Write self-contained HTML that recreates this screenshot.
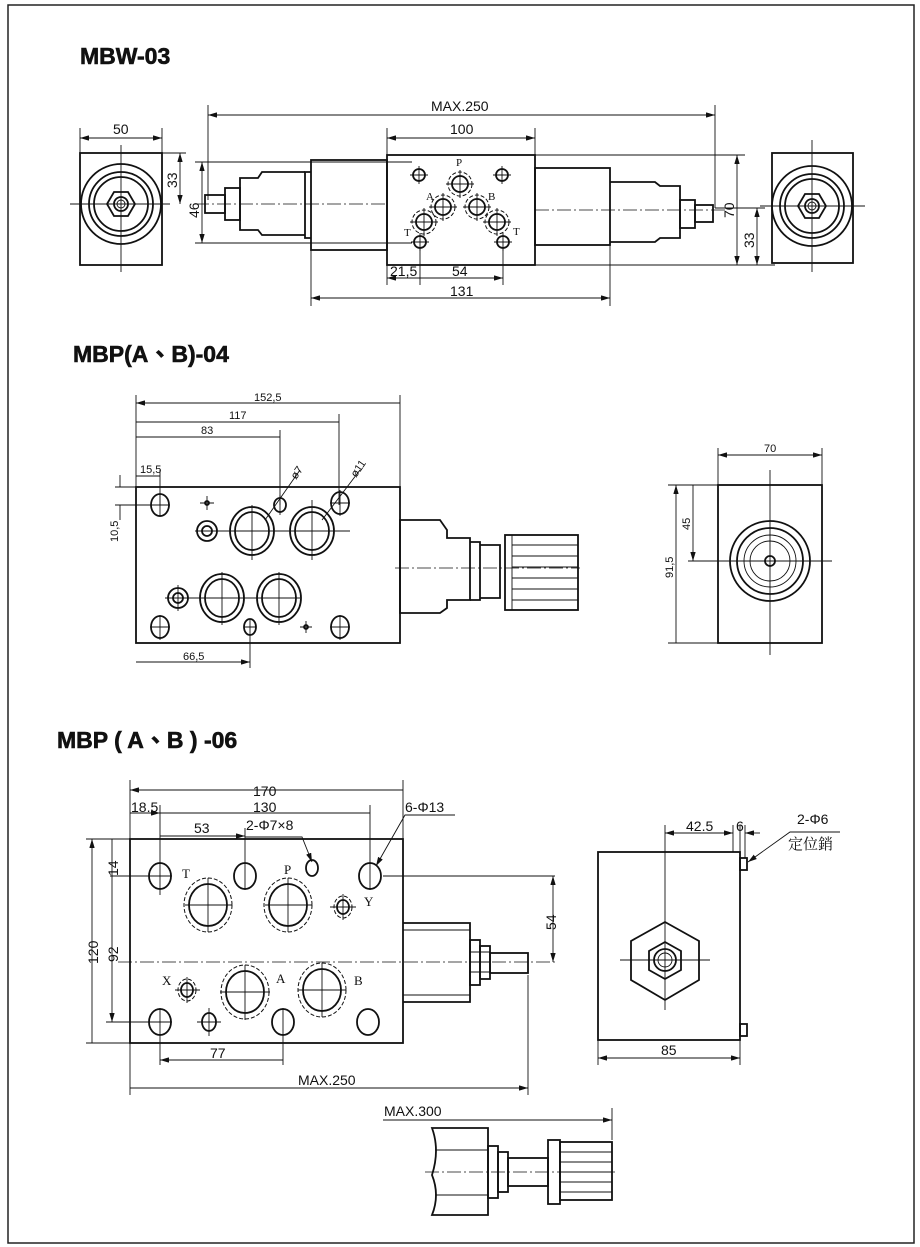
<!DOCTYPE html>
<html><head><meta charset="utf-8"><style>
body{margin:0;background:#fff}
svg{display:block}
text{font-family:"Liberation Sans","Noto Sans CJK TC",sans-serif;fill:#111}
.t{font-weight:bold;font-size:23px;stroke:#111;stroke-width:0.6}
.d{font-size:14px}
.s{font-size:11px}
.L{fill:none;stroke:#111;stroke-width:1.8}
.l{fill:none;stroke:#111;stroke-width:0.9}
.c{fill:none;stroke:#111;stroke-width:0.8;stroke-dasharray:14 3 2 3}
.h{fill:none;stroke:#111;stroke-width:1;stroke-dasharray:4 2}
</style></head><body>
<svg width="920" height="1247" viewBox="0 0 920 1247" xmlns="http://www.w3.org/2000/svg">
<defs>
<marker id="a" viewBox="0 0 10 6" refX="10" refY="3" markerWidth="10" markerHeight="6" orient="auto-start-reverse"><path d="M0,0 L10,3 L0,6z" fill="#111"/></marker>
<g id="hx"><circle r="6" class="L"/><path d="M-9,0H9M0,-9V9" class="l"/></g>
<g id="hd"><circle r="8" class="L"/><circle r="12" class="h"/><path d="M-14,0H14M0,-14V14" class="l"/></g>
</defs>
<rect x="8" y="5" width="906" height="1238" fill="none" stroke="#222" stroke-width="1.5"/>

<!-- MBW-03 -->
<text x="80" y="64" class="t">MBW-03</text>
<rect x="80" y="153" width="82" height="112" class="L"/>
<circle cx="121" cy="204" r="40" class="L"/><circle cx="121" cy="204" r="32" class="L"/><circle cx="121" cy="204" r="27" class="L"/>
<polygon points="107,204 114,192 128,192 135,204 128,216 114,216" class="L"/><circle cx="121" cy="204" r="7" class="L"/><circle cx="121" cy="204" r="4" class="l"/>
<path d="M121,145V272M70,204H170" class="l"/>
<path d="M80,138H162" class="l" marker-start="url(#a)" marker-end="url(#a)"/><path d="M80,128V153M162,128V153" class="l"/>
<text x="113" y="134" class="d">50</text>
<path d="M180,153V204" class="l" marker-start="url(#a)" marker-end="url(#a)"/><path d="M162,153H186" class="l"/>
<text x="0" y="0" class="d" transform="translate(177,188) rotate(-90)">33</text>

<rect x="772" y="153" width="81" height="110" class="L"/>
<circle cx="812" cy="206" r="40" class="L"/><circle cx="812" cy="206" r="32" class="L"/><circle cx="812" cy="206" r="27" class="L"/>
<polygon points="798,206 805,194 819,194 826,206 819,218 805,218" class="L"/><circle cx="812" cy="206" r="7" class="L"/><circle cx="812" cy="206" r="4" class="l"/>
<path d="M812,140V272M760,206H865" class="l"/>

<rect x="387" y="155" width="148" height="110" class="L"/>
<rect x="311" y="160" width="76" height="90" class="L"/>
<path d="M311,172H305V238H311" class="L"/>
<path d="M305,172H262L258,178H240V230H258L262,235H305" class="L"/>
<rect x="225" y="188" width="15" height="32" class="L"/>
<rect x="205" y="195" width="20" height="18" class="L"/>
<rect x="535" y="168" width="75" height="77" class="L"/>
<path d="M610,182H655L660,186H680V238H660L655,242H610" class="L"/>
<rect x="680" y="200" width="15" height="28" class="L"/>
<rect x="695" y="205" width="18" height="17" class="L"/>
<path d="M195,204H387M535,210H725" class="c"/>
<use href="#hx" x="419" y="175"/><use href="#hx" x="502" y="175"/><use href="#hx" x="420" y="242"/><use href="#hx" x="503" y="242"/>
<use href="#hd" x="460" y="184"/><use href="#hd" x="443" y="207"/><use href="#hd" x="477" y="207"/><use href="#hd" x="424" y="222"/><use href="#hd" x="497" y="222"/>
<text x="456" y="166" style="font-family:'Liberation Serif',serif;font-size:11px">P</text>
<text x="426" y="200" style="font-family:'Liberation Serif',serif;font-size:11px">A</text>
<text x="488" y="200" style="font-family:'Liberation Serif',serif;font-size:11px">B</text>
<text x="404" y="236" style="font-family:'Liberation Serif',serif;font-size:11px">T</text>
<text x="513" y="235" style="font-family:'Liberation Serif',serif;font-size:11px">T</text>
<path d="M208,115H715" class="l" marker-start="url(#a)" marker-end="url(#a)"/><path d="M208,105V200M715,105V208" class="l"/>
<text x="431" y="111" class="d">MAX.250</text>
<path d="M387,138H535" class="l" marker-start="url(#a)" marker-end="url(#a)"/><path d="M387,128V155M535,128V155" class="l"/>
<text x="450" y="134" class="d">100</text>
<path d="M737,155V265" class="l" marker-start="url(#a)" marker-end="url(#a)"/><path d="M535,155H745M535,265H775" class="l"/>
<text class="d" transform="translate(734,218) rotate(-90)">70</text>
<path d="M757,208V265" class="l" marker-start="url(#a)" marker-end="url(#a)"/><path d="M715,208H765" class="l"/>
<text class="d" transform="translate(754,248) rotate(-90)">33</text>
<path d="M202,162V243" class="l" marker-start="url(#a)" marker-end="url(#a)"/><path d="M195,162H412M195,243H412" class="l"/>
<text class="d" transform="translate(199,218) rotate(-90)">46</text>
<path d="M387,278H420M420,278H503" class="l" marker-start="url(#a)" marker-end="url(#a)"/><path d="M387,265V285M420,248V285M503,248V285" class="l"/>
<text x="390" y="276" class="d">21,5</text><text x="452" y="276" class="d">54</text>
<path d="M311,298H610" class="l" marker-start="url(#a)" marker-end="url(#a)"/><path d="M311,250V306M610,245V306" class="l"/>
<text x="450" y="296" class="d">131</text>

<!-- MBP(A,B)-04 -->
<text x="73" y="362" class="t">MBP(A、B)-04</text>
<rect x="136" y="487" width="264" height="156" class="L"/>
<path d="M136,403H400M136,422H339M136,437H280M136,476H160M136,662H250" class="l" marker-start="url(#a)" marker-end="url(#a)"/>
<path d="M136,395V487M400,395V487M339,414V505M280,430V505M160,470V505M250,620V668" class="l"/>
<text x="254" y="401" class="s">152,5</text><text x="229" y="419" class="s">117</text><text x="201" y="434" class="s">83</text><text x="140" y="473" class="s">15,5</text><text x="183" y="660" class="s">66,5</text>
<path d="M115,487H136M115,505H160" class="l"/><path d="M120,475V487M120,505V520" class="l"/>
<text class="s" transform="translate(118,542) rotate(-90)">10,5</text>
<g class="L"><ellipse cx="160" cy="505" rx="9" ry="11"/><ellipse cx="280" cy="505" rx="6" ry="7"/><ellipse cx="340" cy="503" rx="9" ry="11"/>
<circle cx="207" cy="531" r="10"/><circle cx="207" cy="531" r="5"/>
<ellipse cx="252" cy="531" rx="22" ry="24"/><ellipse cx="252" cy="531" rx="17" ry="19"/>
<ellipse cx="312" cy="531" rx="22" ry="24"/><ellipse cx="312" cy="531" rx="17" ry="19"/>
<circle cx="178" cy="598" r="10"/><circle cx="178" cy="598" r="5"/>
<ellipse cx="222" cy="598" rx="22" ry="24"/><ellipse cx="222" cy="598" rx="17" ry="19"/>
<ellipse cx="279" cy="598" rx="22" ry="24"/><ellipse cx="279" cy="598" rx="17" ry="19"/>
<ellipse cx="160" cy="627" rx="9" ry="11"/><ellipse cx="250" cy="627" rx="6" ry="8"/><ellipse cx="340" cy="627" rx="9" ry="11"/>
<circle cx="207" cy="503" r="2"/><circle cx="306" cy="627" r="2"/></g>
<path d="M150,505H170M160,493V517M200,503H214M207,496V510M195,531H350M252,505V560M312,500V560M280,495V515M330,503H350M340,490V516M165,598H300M178,585V611M222,572V625M279,572V625M150,627H170M160,615V640M300,627H312M306,621V633M330,627H350M340,615V640M244,627H256" class="l"/>
<path d="M265,520L300,470M322,520L360,470" class="l"/>
<text class="s" transform="translate(296,480) rotate(-55)">ø7</text><text class="s" transform="translate(356,478) rotate(-55)">ø11</text>
<path d="M400,520H440L447,530V538H470V600H447V608L440,613H400Z" class="L"/>
<path d="M470,542H480V600H470M480,545H500V598H480" class="L"/>
<rect x="505" y="535" width="73" height="75" class="L"/><path d="M505,535V610M512,535V610M512,545H578M512,556H578M512,567H578M512,578H578M512,589H578M512,600H578" class="l"/>
<path d="M395,568H580" class="c"/>
<rect x="718" y="485" width="104" height="158" class="L"/>
<circle cx="770" cy="561" r="40" class="L"/><circle cx="770" cy="561" r="33" class="L"/><circle cx="770" cy="561" r="26" class="l"/><circle cx="770" cy="561" r="20" class="l"/><circle cx="770" cy="561" r="5" class="L"/>
<path d="M770,470V655M700,561H832" class="l"/>
<path d="M718,455H822" class="l" marker-start="url(#a)" marker-end="url(#a)"/><path d="M718,448V485M822,448V485" class="l"/>
<text x="764" y="452" class="s">70</text>
<path d="M676,485V643M693,485V561" class="l" marker-start="url(#a)" marker-end="url(#a)"/><path d="M668,485H718M668,643H718M688,561H720" class="l"/>
<text class="s" transform="translate(673,578) rotate(-90)">91,5</text><text class="s" transform="translate(690,530) rotate(-90)">45</text>

<!-- MBP(A,B)-06 -->
<text x="57" y="748" class="t">MBP ( A、B ) -06</text>
<rect x="130" y="839" width="273" height="204" class="L"/>
<path d="M130,790H403M160,813H370M160,836H245" class="l" marker-start="url(#a)" marker-end="url(#a)"/>
<path d="M130,813H160" class="l" marker-end="url(#a)"/>
<path d="M130,780V839M403,780V839M160,805V895M370,805V890M245,828V890" class="l"/>
<text x="253" y="796" class="d">170</text><text x="131" y="812" class="d">18.5</text><text x="253" y="812" class="d">130</text><text x="194" y="833" class="d">53</text>
<text x="246" y="830" class="d">2-Φ7×8</text><path d="M245,837H302L312,862" class="l" marker-end="url(#a)"/>
<text x="405" y="812" class="d">6-Φ13</text><path d="M455,815H405L376,866" class="l" marker-end="url(#a)"/>
<g class="L"><ellipse cx="160" cy="876" rx="11" ry="13"/><ellipse cx="245" cy="876" rx="11" ry="13"/><ellipse cx="312" cy="868" rx="6" ry="8"/><ellipse cx="370" cy="876" rx="11" ry="13"/>
<ellipse cx="208" cy="905" rx="19" ry="21"/><ellipse cx="288" cy="905" rx="19" ry="21"/><ellipse cx="343" cy="907" rx="6" ry="7"/>
<ellipse cx="187" cy="990" rx="6" ry="7"/><ellipse cx="245" cy="992" rx="19" ry="21"/><ellipse cx="322" cy="990" rx="19" ry="21"/>
<ellipse cx="160" cy="1022" rx="11" ry="13"/><ellipse cx="209" cy="1022" rx="7" ry="9"/><ellipse cx="283" cy="1022" rx="11" ry="13"/><ellipse cx="368" cy="1022" rx="11" ry="13"/></g>
<g class="h"><ellipse cx="208" cy="905" rx="24" ry="27"/><ellipse cx="288" cy="905" rx="24" ry="27"/><ellipse cx="343" cy="907" rx="9" ry="11"/><ellipse cx="187" cy="990" rx="9" ry="11"/><ellipse cx="245" cy="992" rx="24" ry="27"/><ellipse cx="322" cy="990" rx="24" ry="27"/></g>
<path d="M110,876H172M148,1022H172M160,1008V1065M283,1008V1065M185,905H232M208,878V932M265,905H312M288,878V932M330,907H356M343,894V920M175,990H200M187,977V1003M220,992H270M245,965V1020M298,990H346M322,963V1017M197,1022H221M209,1008V1036M383,876H555" class="l"/>
<path d="M118,962H555" class="c"/>
<text x="182" y="878" style="font-family:'Liberation Serif',serif;font-size:13px">T</text><text x="284" y="874" style="font-family:'Liberation Serif',serif;font-size:13px">P</text><text x="364" y="906" style="font-family:'Liberation Serif',serif;font-size:13px">Y</text>
<text x="162" y="985" style="font-family:'Liberation Serif',serif;font-size:13px">X</text><text x="276" y="983" style="font-family:'Liberation Serif',serif;font-size:13px">A</text><text x="354" y="985" style="font-family:'Liberation Serif',serif;font-size:13px">B</text>
<path d="M403,923H470V1002H403" class="L"/><path d="M403,930H470M403,995H470" class="l"/>
<rect x="470" y="940" width="10" height="45" class="L"/><rect x="480" y="946" width="10" height="33" class="L"/><path d="M470,952H490M470,962H490M470,972H490" class="l"/>
<rect x="490" y="953" width="38" height="20" class="L"/>
<path d="M92,839V1043M112,876V1022" class="l" marker-start="url(#a)" marker-end="url(#a)"/><path d="M86,839H130M86,1043H130M106,1022H148" class="l"/><path d="M112,839V876" class="l"/>
<text class="d" transform="translate(98,964) rotate(-90)">120</text><text class="d" transform="translate(118,962) rotate(-90)">92</text><text class="d" transform="translate(118,876) rotate(-90)">14</text>
<path d="M553,876V962" class="l" marker-start="url(#a)" marker-end="url(#a)"/><text class="d" transform="translate(556,930) rotate(-90)">54</text>
<path d="M160,1060H283M130,1088H528" class="l" marker-start="url(#a)" marker-end="url(#a)"/><path d="M130,1043V1095M528,975V1095" class="l"/>
<text x="210" y="1058" class="d">77</text><text x="298" y="1085" class="d">MAX.250</text>
<rect x="598" y="852" width="142" height="188" class="L"/>
<polygon points="665,922 699,941 699,980 665,1000 631,980 631,941" class="L"/>
<polygon points="665,942 681,951 681,970 665,979 649,970 649,951" class="L"/><circle cx="665" cy="960" r="11" class="L"/><circle cx="665" cy="960" r="7" class="l"/>
<path d="M665,860V1010M620,960H710M665,825V860" class="l"/>
<rect x="740" y="858" width="7" height="12" class="L"/><rect x="740" y="1024" width="7" height="12" class="L"/>
<path d="M665,833H733" class="l" marker-start="url(#a)" marker-end="url(#a)"/><path d="M745,833H760" class="l" marker-start="url(#a)"/><path d="M733,825V852M740,825V858M745,825V858" class="l"/>
<text x="686" y="831" class="d">42.5</text><text x="736" y="831" class="d">6</text>
<text x="797" y="824" class="d">2-Φ6</text><text x="788" y="849" style="font-family:'Liberation Sans','Noto Serif CJK SC',serif;font-size:15px">定位銷</text>
<path d="M840,832H790L748,862" class="l" marker-end="url(#a)"/>
<path d="M598,1058H740" class="l" marker-start="url(#a)" marker-end="url(#a)"/><path d="M598,1040V1065M740,1040V1065" class="l"/><text x="661" y="1055" class="d">85</text>
<path d="M383,1120H612" class="l" marker-end="url(#a)"/><path d="M612,1108V1140" class="l"/><text x="384" y="1116" class="d">MAX.300</text>
<path d="M432,1128H488V1215H432Q440,1195 432,1175Q440,1150 432,1128Z" class="L"/><path d="M435,1150H488M435,1195H488" class="l"/>
<rect x="488" y="1146" width="10" height="52" class="L"/><rect x="498" y="1152" width="10" height="40" class="L"/>
<rect x="508" y="1158" width="40" height="28" class="L"/>
<rect x="548" y="1140" width="12" height="64" class="L"/><rect x="560" y="1142" width="52" height="58" class="L"/>
<path d="M560,1152H612M560,1162H612M560,1172H612M560,1182H612M560,1192H612" class="l"/>
<path d="M425,1172H618" class="c"/>
</svg>
</body></html>
